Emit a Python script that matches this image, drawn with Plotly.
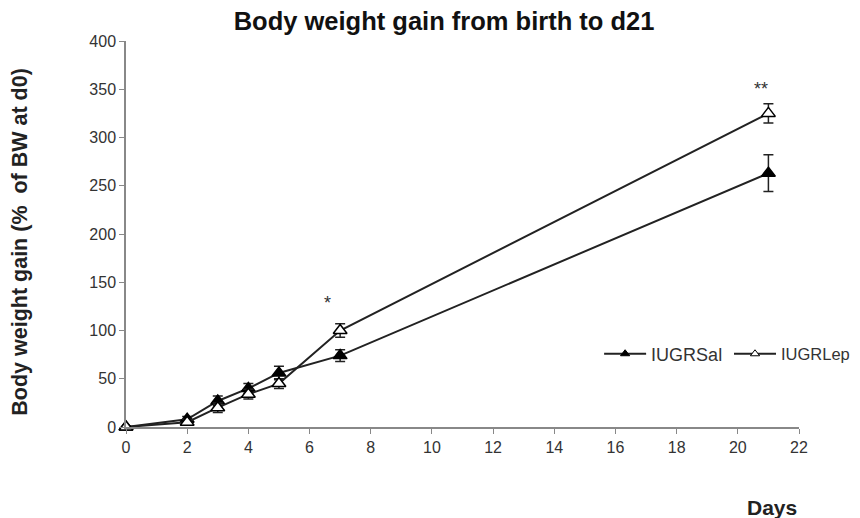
import plotly.graph_objects as go

days = [0, 2, 3, 4, 5, 7, 21]
sal_mean = [0, 8, 27, 40, 56, 74, 263]
sal_err = [1, 3, 5, 5, 7, 6, 19]
lep_mean = [0, 5, 20, 34, 45, 100, 325]
lep_err = [1, 3, 5, 5, 5, 7, 10]
x_ticks = list(range(0, 23, 2))
y_ticks = list(range(0, 401, 50))

FONT = "Liberation Sans, Arial, sans-serif"

fig = go.Figure()
fig.add_trace(go.Scatter(
    x=days, y=sal_mean, mode="lines+markers", name="IUGRSal",
    line=dict(color="#222", width=2),
    marker=dict(symbol="triangle-up", size=12, color="black", line=dict(color="black", width=1.5)),
    error_y=dict(type="data", array=sal_err, color="#222", thickness=1.5, width=5),
    showlegend=False, cliponaxis=False))
fig.add_trace(go.Scatter(
    x=days, y=lep_mean, mode="lines+markers", name="IUGRLep",
    line=dict(color="#222", width=2),
    marker=dict(symbol="triangle-up", size=12, color="white", line=dict(color="black", width=1.5)),
    error_y=dict(type="data", array=lep_err, color="#222", thickness=1.5, width=5),
    showlegend=False, cliponaxis=False))
# legend entries
fig.add_trace(go.Scatter(x=[None], y=[None], mode="lines+markers", name="IUGRSal", legend="legend",
    line=dict(color="#222", width=2),
    marker=dict(symbol="triangle-up", size=8, color="black", line=dict(color="black", width=1))))
fig.add_trace(go.Scatter(x=[None], y=[None], mode="lines+markers", name="IUGRLep", legend="legend2",
    line=dict(color="#222", width=2),
    marker=dict(symbol="triangle-up", size=8, color="white", line=dict(color="black", width=1))))

fig.add_annotation(x=6.6, y=129, text="*", showarrow=False, font=dict(size=18, color="#333", family=FONT))
fig.add_annotation(x=20.75, y=350, text="**", showarrow=False, font=dict(size=18, color="#333", family=FONT))

fig.add_annotation(xref="paper", yref="paper", x=-0.1575, y=0.48, xanchor="center", yanchor="middle",
                   text="<b>Body weight gain (%  of BW at d0)</b>",
                   textangle=-90, showarrow=False, font=dict(size=21.5, color="#222", family=FONT))
fig.add_annotation(xref="paper", yref="paper", x=0.96, y=-0.2098, xanchor="center", yanchor="middle",
                   text="<b>Days</b>", showarrow=False,
                   font=dict(size=21, color="#222", family=FONT))

leg_common = dict(orientation="h", y=0.189, xanchor="left", yanchor="middle", itemwidth=42,
                  bgcolor="rgba(0,0,0,0)")

fig.update_layout(
    width=860, height=518,
    margin=dict(l=118, r=69, t=33, b=99, autoexpand=False),
    paper_bgcolor="white", plot_bgcolor="white",
    title=dict(text="<b>Body weight gain from birth to d21</b>", xref="container", x=0.507, xanchor="center",
               y=0.975, yanchor="middle", font=dict(size=25.5, color="#111", family=FONT)),
    font=dict(family=FONT, size=16, color="#333"),
    legend=dict(x=0.703, font=dict(size=18, color="#333", family=FONT), **leg_common),
    legend2=dict(x=0.896, font=dict(size=16.5, color="#333", family=FONT), **leg_common),
    xaxis=dict(range=[0, 22], tickvals=x_ticks, showgrid=False, zeroline=False,
               showline=True, linecolor="#888", linewidth=1.5, ticks="outside", ticklen=5, tickcolor="#888",
               tickfont=dict(size=16, color="#333")),
    yaxis=dict(range=[0, 400], tickvals=y_ticks, showgrid=False, zeroline=False,
               showline=True, linecolor="#888", linewidth=1.5, ticks="outside", ticklen=5, tickcolor="#888",
               tickfont=dict(size=16, color="#333")),
)
fig.write_html("out.html")
